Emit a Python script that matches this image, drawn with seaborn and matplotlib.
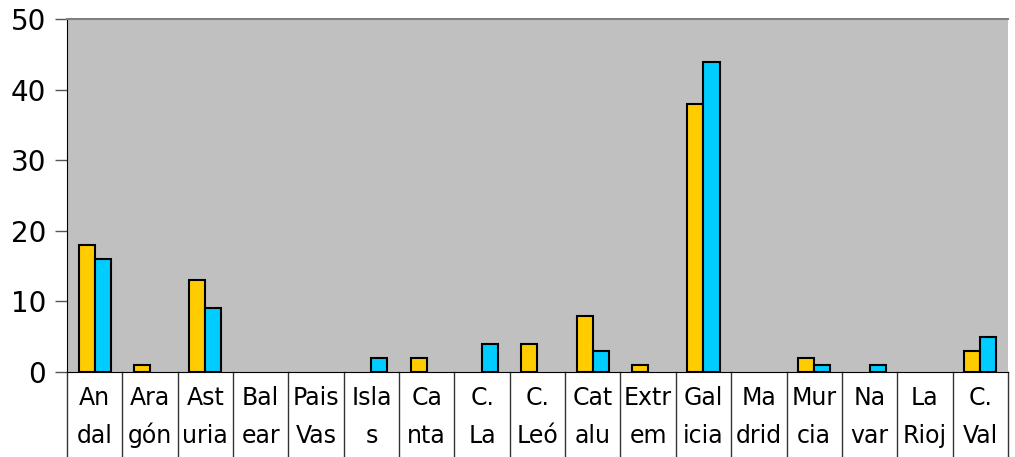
import pandas as pd
import seaborn as sns
import matplotlib.pyplot as plt
from matplotlib.transforms import blended_transform_factory

# data
regions = ["An\ndal", "Ara\ngón", "Ast\nuria", "Bal\near", "Pais\nVas", "Isla\ns",
           "Ca\nnta", "C.\nLa", "C.\nLeó", "Cat\nalu", "Extr\nem", "Gal\nicia",
           "Ma\ndrid", "Mur\ncia", "Na\nvar", "La\nRioj", "C.\nVal"]
serie_1 = [18, 1, 13, 0, 0, 0, 2, 0, 4, 8, 1, 38, 0, 2, 0, 0, 3]
serie_2 = [16, 0, 9, 0, 0, 2, 0, 4, 0, 3, 0, 44, 0, 1, 1, 0, 5]

df = pd.DataFrame({
    "region": regions * 2,
    "valor": serie_1 + serie_2,
    "serie": ["s1"] * len(regions) + ["s2"] * len(regions),
})

fig = plt.figure(figsize=(10.15, 4.57), dpi=100)
ax = fig.add_axes([0.066, 0.186, 0.927, 0.772])

sns.barplot(data=df, x="region", y="valor", hue="serie",
            palette=["#FFCC00", "#00CCFF"], saturation=1, width=0.58, gap=0,
            edgecolor="black", linewidth=1.5, legend=False, ax=ax)

# zero-valued bars are not drawn in the original
for p in ax.patches:
    if p.get_height() == 0:
        p.set_visible(False)

ax.set_facecolor("#C0C0C0")
ax.set_ylim(0, 50)
ax.set_xlim(-0.5, len(regions) - 0.5)
ax.set_yticks([0, 10, 20, 30, 40, 50])
ax.tick_params(axis="y", direction="out", length=9, width=1, color="#555555",
               labelsize=20, pad=6)
ax.set_xticks([])
ax.set_xlabel("")
ax.set_ylabel("")

ax.spines["left"].set_color("black")
ax.spines["bottom"].set_color("black")
ax.spines["right"].set_visible(False)
ax.spines["top"].set_color("#808080")
ax.spines["top"].set_linewidth(1.5)

# label table under the axis
tr = blended_transform_factory(ax.transData, ax.transAxes)
for i in range(len(regions) + 1):
    ax.plot([i - 0.5, i - 0.5], [0, -0.25], color="#333333", lw=1,
            transform=tr, clip_on=False)
for i, lab in enumerate(regions):
    top, bot = lab.split("\n")
    ax.text(i, -0.075, top, transform=tr, ha="center", va="center", fontsize=17)
    ax.text(i, -0.18, bot, transform=tr, ha="center", va="center", fontsize=17)

fig.savefig("out.png", dpi=100)
